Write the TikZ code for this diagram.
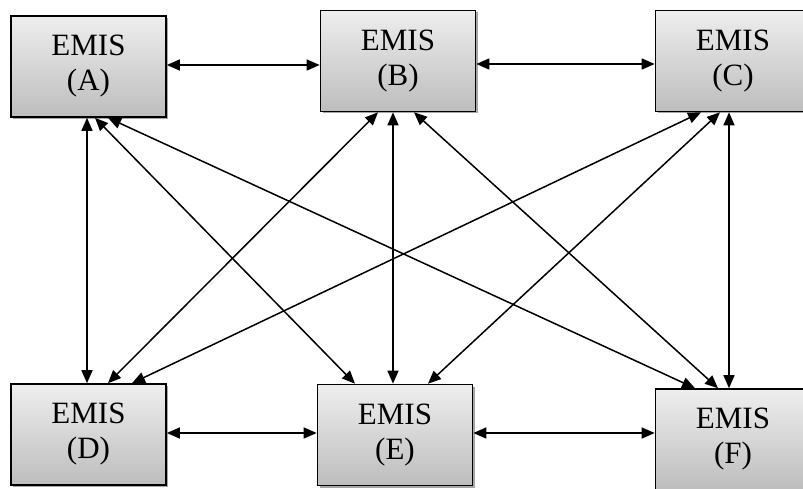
\documentclass[tikz,border=0pt]{standalone}
\usepackage{fontspec}
\setmainfont{Liberation Serif}
\usetikzlibrary{arrows.meta,shadows}
\definecolor{boxtop}{HTML}{EEEEEE}
\definecolor{boxbot}{HTML}{BDBDBD}
\begin{document}
\begin{tikzpicture}[x=1pt,y=-1pt,
  emis/.style={draw=black, line width=1.6pt, top color=boxtop, bottom color=boxbot,
    minimum width=155pt, minimum height=101pt, inner sep=0pt, align=center,
    font=\fontsize{31}{35}\selectfont,
    drop shadow={shadow xshift=2pt, shadow yshift=-2pt, opacity=0.35, fill=black}},
  arr/.style={{Triangle[length=13pt,width=11pt]}-{Triangle[length=13pt,width=11pt]}, line width=1.5pt}]
\useasboundingbox (0,0) rectangle (803,489);
\clip (0,0) rectangle (803,489);
\node[emis] (A) at (88.5,66.5) {EMIS\\(A)};
\node[emis] (B) at (398,61) {EMIS\\(B)};
\node[emis] (C) at (733,61) {EMIS\\(C)};
\node[emis] (D) at (88.5,434.5) {EMIS\\(D)};
\node[emis] (E) at (395,435) {EMIS\\(E)};
\node[emis] (F) at (733,439.5) {EMIS\\(F)};
% horizontal
\draw[arr] ([yshift=1.5pt]A.east) -- ([yshift=1.5pt]A.east -| B.west);
\draw[arr] ([yshift=-3pt]B.east) -- ([yshift=-3pt]B.east -| C.west);
\draw[arr] ([yshift=1.5pt]D.east) -- ([yshift=1.5pt]D.east -| E.west);
\draw[arr] ([yshift=2pt]E.east) -- ([yshift=2pt]E.east -| F.west);
% from A
\draw[arr] ([xshift=-1.5pt]A.south) -- ([xshift=-1.5pt]D.north);
\draw[arr] ([xshift=6.5pt]A.south) -- ([xshift=-40pt]E.north);
\draw[arr] ([xshift=19.5pt]A.south) -- ([xshift=-38pt]F.north);
% from B
\draw[arr] ([xshift=-20pt]B.south) -- ([xshift=19.5pt]D.north);
\draw[arr] ([xshift=-5pt]B.south) -- ([xshift=-2pt]E.north);
\draw[arr] ([xshift=16pt]B.south) -- ([xshift=-15pt]F.north);
% from C
\draw[arr] ([xshift=-32pt]C.south) -- ([xshift=43.5pt]D.north);
\draw[arr] ([xshift=-13pt]C.south) -- ([xshift=33pt]E.north);
\draw[arr] ([xshift=-4pt]C.south) -- ([xshift=-4pt]F.north);
\end{tikzpicture}
\end{document}
